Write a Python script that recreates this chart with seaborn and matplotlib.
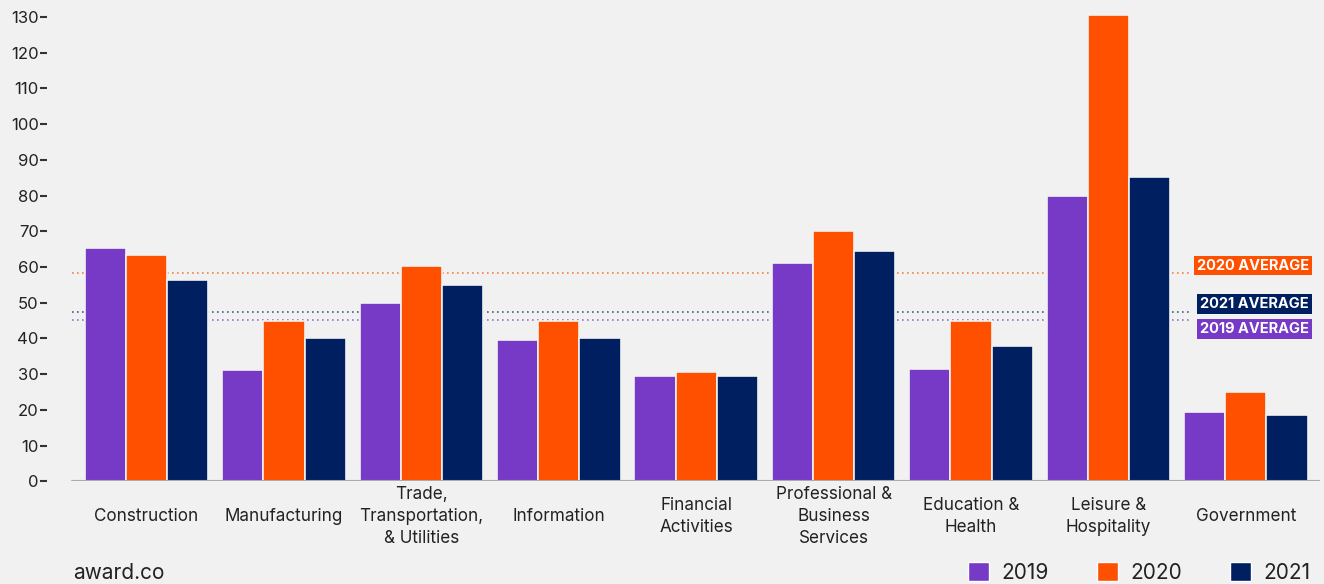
import pandas as pd
import matplotlib
matplotlib.use("Agg")
import matplotlib.pyplot as plt
import matplotlib.transforms as mtransforms
from matplotlib.patches import Patch
import seaborn as sns

# Daten
sectors = ["Construction", "Manufacturing", "Trade,\nTransportation,\n& Utilities",
           "Information", "Financial\nActivities", "Professional &\nBusiness\nServices",
           "Education &\nHealth", "Leisure &\nHospitality", "Government"]
years = ["2019", "2020", "2021"]
values_2019 = [65.3, 31.1, 49.9, 39.5, 29.4, 61.0, 31.4, 79.8, 19.3]
values_2020 = [63.3, 44.8, 60.2, 44.8, 30.5, 70.0, 44.8, 130.5, 24.9]
values_2021 = [56.3, 40.0, 54.9, 40.0, 29.4, 64.4, 37.8, 85.2, 18.5]
averages = {"2019": 45.1, "2020": 58.3, "2021": 47.3}
yticks = list(range(0, 131, 10))

colors = {"2019": "#763AC6", "2020": "#FF5000", "2021": "#001F60"}
bg = "#F1F1F1"

df = pd.DataFrame({
    "Sector": sectors * 3,
    "Year": ["2019"] * 9 + ["2020"] * 9 + ["2021"] * 9,
    "Value": values_2019 + values_2020 + values_2021,
})

sns.set_style("white")
plt.rcParams["font.family"] = ["Inter", "DejaVu Sans"]

fig = plt.figure(figsize=(13.24, 5.84), dpi=100, facecolor=bg)
ax = fig.add_axes([0.0355, 0.176, 0.9615, 0.801])
ax.set_facecolor(bg)

sns.barplot(data=df, x="Sector", y="Value", hue="Year", palette=colors, saturation=1,
            width=0.9, edgecolor=bg, linewidth=1.2, ax=ax, legend=False, zorder=3)

xmin, xmax = -0.725, 8.54
x_left, x_line_end, x_label = -0.54, 7.59, 8.46
ax.set_xlim(xmin, xmax)
ax.set_ylim(0, 131)

# Basislinie
ax.axhline(0, xmin=(x_left - xmin) / (xmax - xmin), color="#AAAAAA", lw=1.5, zorder=4)

# Durchschnittslinien + Beschriftung
label_dy = {"2019": -6.1, "2020": 5.4, "2021": 6.1}
for yr, avg in averages.items():
    ax.hlines(avg, x_left, x_line_end, colors=colors[yr], linestyles=(0, (1, 2)),
              lw=1.2, alpha=0.7, zorder=1)
    offset = mtransforms.offset_copy(ax.transData, fig=fig, x=0, y=label_dy[yr], units="points")
    ax.text(x_label, avg, f"{yr} AVERAGE", transform=offset, ha="right", va="center",
            color="white", fontsize=10.5, fontweight="bold", zorder=5,
            bbox=dict(boxstyle="square,pad=0.2", fc=colors[yr], ec="none"))

for s in ax.spines.values():
    s.set_visible(False)

ax.set_yticks(yticks)
ax.tick_params(axis="y", length=5, width=1.5, color="#333333", pad=1,
               labelsize=12, labelcolor="#222222", left=True)
ax.tick_params(axis="x", length=0, pad=25.5, labelsize=12.3, labelcolor="#222222")
for lab in ax.get_xticklabels():
    lab.set_verticalalignment("center")
    lab.set_linespacing(1.4)
ax.set_xlabel("")
ax.set_ylabel("")

fig.text(0.055, 0.019, "award.co", fontsize=15, color="#222222", ha="left", va="center")

handles = [Patch(facecolor=colors[y], label=y) for y in years]
fig.legend(handles=handles, loc="lower right", bbox_to_anchor=(1.004, -0.03), ncol=3,
           frameon=False, fontsize=15, handlelength=1.0, handleheight=1.0,
           handletextpad=0.6, columnspacing=2.3, labelcolor="#222222")

fig.savefig("out.png", dpi=100, facecolor=bg)
